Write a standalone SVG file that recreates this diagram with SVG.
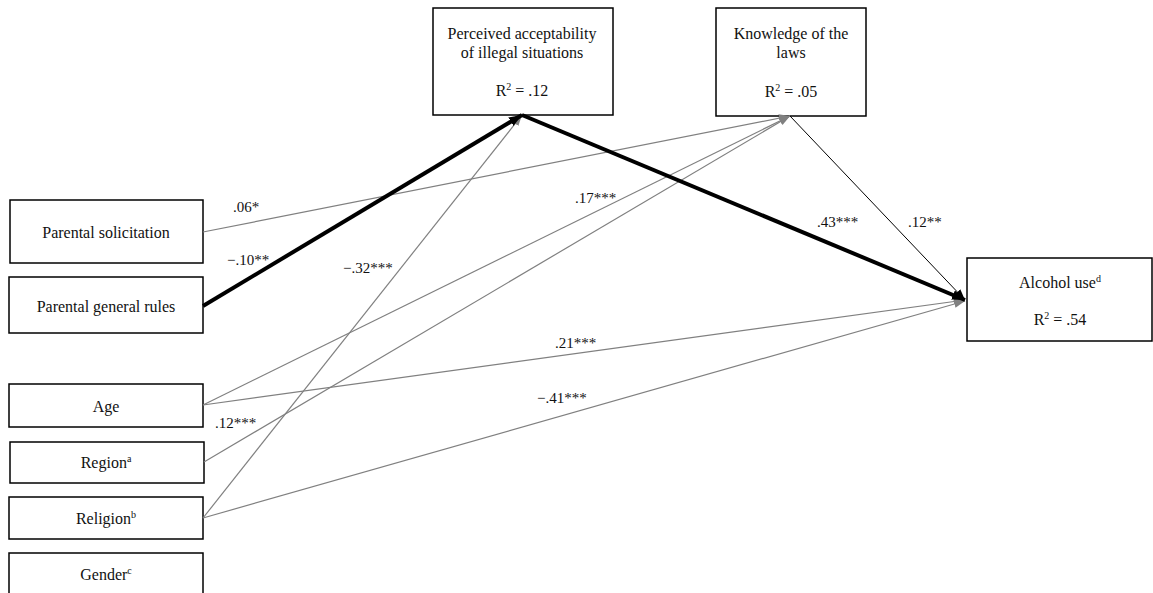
<svg xmlns="http://www.w3.org/2000/svg" width="1153" height="593" viewBox="0 0 1153 593">
<style>
.box{fill:#fff;stroke:#000;stroke-width:1.5}
text{font-family:"Liberation Serif","Times New Roman",serif;font-size:16px;fill:#111}
.c{text-anchor:middle}
.sup{font-size:10px}
.lb{font-size:15px}
.g{stroke:#808080;stroke-width:1.2;fill:none}
.k{stroke:#000;stroke-width:1;fill:none}
.b{stroke:#000;stroke-width:4;fill:none}
</style>
<defs>
<marker id="ag" markerUnits="userSpaceOnUse" markerWidth="12" markerHeight="10" refX="11" refY="4" orient="auto"><path d="M0,0 L11,4 L0,8 Z" fill="#808080"/></marker>
<marker id="ak" markerUnits="userSpaceOnUse" markerWidth="12" markerHeight="10" refX="11" refY="4" orient="auto"><path d="M0,0 L11,4 L0,8 Z" fill="#000"/></marker>
<marker id="ab" markerUnits="userSpaceOnUse" markerWidth="14" markerHeight="12" refX="13" refY="5" orient="auto"><path d="M0,0 L13,5 L0,10 Z" fill="#000"/></marker>
</defs>
<rect width="1153" height="593" fill="#fff"/>
<g id="n-perceived"><rect class="box" x="433" y="8" width="180" height="107"/>
<text class="c" x="522" y="39">Perceived acceptability</text>
<text class="c" x="522" y="58">of illegal situations</text>
<text class="c" x="522" y="96">R<tspan class="sup" dy="-6">2</tspan><tspan dy="6"> = .12</tspan></text></g>
<g id="n-knowledge"><rect class="box" x="716" y="8" width="150" height="108"/>
<text class="c" x="791" y="39">Knowledge of the</text>
<text class="c" x="791" y="58">laws</text>
<text class="c" x="791" y="97">R<tspan class="sup" dy="-6">2</tspan><tspan dy="6"> = .05</tspan></text></g>
<g id="n-alcohol"><rect class="box" x="967" y="258" width="185" height="83"/>
<text class="c" x="1060" y="288">Alcohol use<tspan class="sup" dy="-6">d</tspan></text>
<text class="c" x="1060" y="325">R<tspan class="sup" dy="-6">2</tspan><tspan dy="6"> = .54</tspan></text></g>
<g id="n-solicitation"><rect class="box" x="10" y="200" width="193" height="63"/>
<text class="c" x="106" y="238">Parental solicitation</text></g>
<g id="n-rules"><rect class="box" x="9" y="277" width="194" height="56"/>
<text class="c" x="106" y="312">Parental general rules</text></g>
<g id="n-age"><rect class="box" x="9" y="384" width="194" height="43"/>
<text class="c" x="106" y="412">Age</text></g>
<g id="n-region"><rect class="box" x="10" y="442" width="194" height="41"/>
<text class="c" x="106" y="468">Region<tspan class="sup" dy="-6">a</tspan></text></g>
<g id="n-religion"><rect class="box" x="9" y="497" width="194" height="42"/>
<text class="c" x="106" y="524">Religion<tspan class="sup" dy="-6">b</tspan></text></g>
<g id="n-gender"><rect class="box" x="9" y="553" width="194" height="50"/>
<text class="c" x="106" y="580">Gender<tspan class="sup" dy="-6">c</tspan></text></g>
<g id="connectors">
<line class="g" x1="203" y1="232" x2="790" y2="116" marker-end="url(#ag)"/>
<line class="g" x1="203" y1="405" x2="790" y2="116" marker-end="url(#ag)"/>
<line class="g" x1="204" y1="462" x2="790" y2="116" marker-end="url(#ag)"/>
<line class="g" x1="203" y1="518" x2="522" y2="115" marker-end="url(#ag)"/>
<line class="g" x1="203" y1="405" x2="965" y2="300" marker-end="url(#ag)"/>
<line class="g" x1="203" y1="518" x2="965" y2="301" marker-end="url(#ag)"/>
<line class="k" x1="790" y1="116" x2="965" y2="300" marker-end="url(#ak)"/>
<line class="b" x1="203" y1="306" x2="522" y2="115" marker-end="url(#ab)"/>
<line class="b" x1="522" y1="115" x2="965" y2="300" marker-end="url(#ab)"/>
</g>
<g id="labels">
<text class="lb" x="233" y="212">.06*</text>
<text class="lb" x="227" y="265">−.10**</text>
<text class="lb" x="343" y="273">−.32***</text>
<text class="lb" x="575" y="203">.17***</text>
<text class="lb" x="817" y="227">.43***</text>
<text class="lb" x="908" y="227">.12**</text>
<text class="lb" x="555" y="348">.21***</text>
<text class="lb" x="537" y="403">−.41***</text>
<text class="lb" x="215" y="428">.12***</text>
</g>
</svg>
